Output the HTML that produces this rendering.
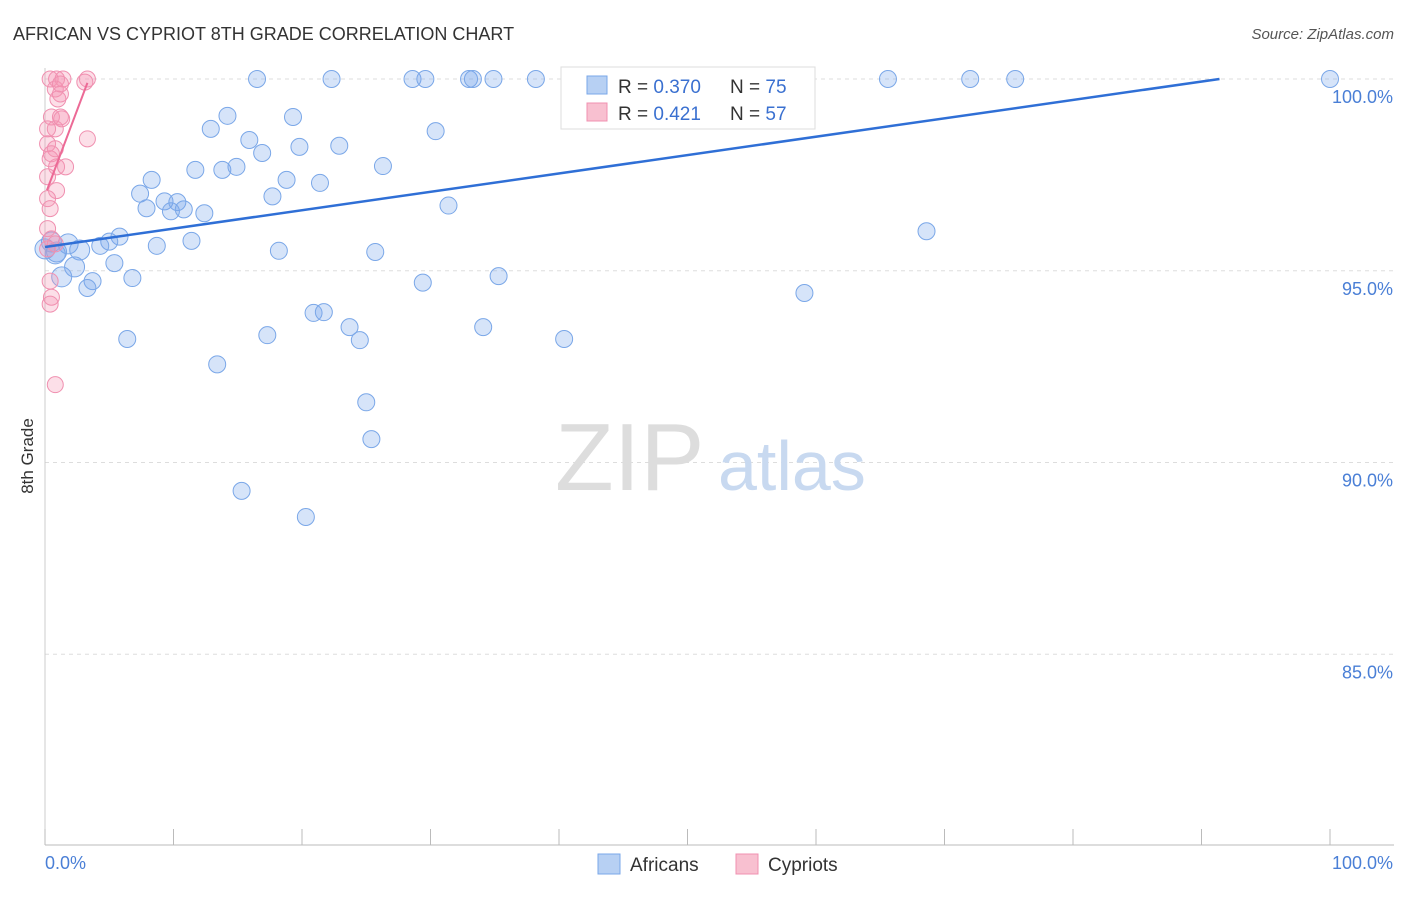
<!DOCTYPE html>
<html><head><meta charset="utf-8"><style>
body{margin:0;background:#fff;font-family:"Liberation Sans",sans-serif;}
svg text{font-family:"Liberation Sans",sans-serif;}
</style></head><body>
<svg id="chart" width="1406" height="892" xmlns="http://www.w3.org/2000/svg">
<text x="13" y="40" font-size="18" fill="#333">AFRICAN VS CYPRIOT 8TH GRADE CORRELATION CHART</text>
<text x="1394" y="39" font-size="15" fill="#555" text-anchor="end" font-style="italic">Source: ZipAtlas.com</text>
<g id="grid"></g>
<text x="555" y="490" font-size="96" fill="#ddd" font-family="Liberation Serif">ZIP</text>
<text x="718" y="490" font-size="70" fill="#c8d9f0">atlas</text>
<g id="marks"></g>
<text transform="translate(33,456) rotate(-90)" font-size="17" fill="#333" text-anchor="middle">8th Grade</text>
<text x="45" y="869" font-size="18" fill="#4a7fd6">0.0%</text>
<text x="1393" y="869" font-size="18" fill="#4a7fd6" text-anchor="end">100.0%</text>
<g>
<rect x="561" y="67" width="254" height="62" fill="#fff" stroke="#ddd"/>
<rect x="587" y="76" width="20" height="18" fill="#b7d0f3" stroke="#7aa7e8"/>
<rect x="587" y="103" width="20" height="18" fill="#f8c0d0" stroke="#f090b0"/>
<text x="618" y="93" font-size="19" fill="#333">R = <tspan fill="#3a70d0">0.370</tspan></text>
<text x="730" y="93" font-size="19" fill="#333">N = <tspan fill="#3a70d0">75</tspan></text>
<text x="618" y="120" font-size="19" fill="#333">R = <tspan fill="#3a70d0"> 0.421</tspan></text>
<text x="730" y="120" font-size="19" fill="#333">N = <tspan fill="#3a70d0">57</tspan></text>
</g>
<g><rect x="598" y="854" width="22" height="20" fill="#b7d0f3" stroke="#7aa7e8"/><text x="630" y="871" font-size="19" fill="#333">Africans</text></g>
<g><rect x="736" y="854" width="22" height="20" fill="#f8c0d0" stroke="#f090b0"/><text x="768" y="871" font-size="19" fill="#333">Cypriots</text></g>
</svg>
<script>
const yTicks=[100,95,90,85];
const xTicks=[0,10,20,30,40,50,60,70,80,90,100];
const africanX=[16.5,22.3,28.6,29.6,33,33.3,34.9,38.2,42.4,52.3,65.6,72,75.5,100,14.2,19.3,12.9,30.4,15.9,22.9,19.8,16.9,26.3,11.7,13.8,14.9,8.3,18.8,21.4,7.4,17.7,9.3,10.3,31.4,7.9,9.8,10.8,12.4,5.8,5,4.3,8.7,11.4,68.6,1.8,0.9,2.7,18.2,25.7,5.4,2.3,1.3,6.8,3.7,35.3,3.3,29.4,59.1,20.9,21.7,23.7,34.1,17.3,24.5,6.4,40.4,13.4,25,25.4,15.3,20.3,0.8,0,0.5];
const africanY=[100,100,100,100,100,100,100,100,100,100,100,100,100,100,99.04,99.01,98.7,98.64,98.41,98.26,98.23,98.07,97.73,97.63,97.63,97.71,97.37,97.37,97.29,97.01,96.94,96.81,96.79,96.7,96.63,96.55,96.6,96.5,95.89,95.76,95.65,95.65,95.78,96.03,95.7,95.49,95.54,95.52,95.49,95.2,95.1,94.84,94.81,94.73,94.86,94.55,94.69,94.42,93.9,93.92,93.53,93.53,93.32,93.19,93.22,93.22,92.56,91.57,90.61,89.26,88.58,95.44,95.57,95.75];
const cyprusX=[0.4,0.9,1.4,3.3,0.8,1.2,1,0.5,1.2,3.3,0.8,0.2,0.8,0.4,0.9,1.6,0.2,0.9,0.2,0.4,0.2,0.5,0.2,0.8,0.4,0.5,0.4,0.8,3.1,1.2,0.2,0.5,1.3];
const cyprusY=[100,100,100,100,99.74,99.61,99.48,99.01,99.01,98.44,98.7,98.31,98.18,97.92,97.71,97.71,97.45,97.09,96.88,96.62,96.1,95.83,95.57,95.7,94.73,94.31,94.13,92.03,99.92,99.87,98.7,98.05,98.96];
const africanTrend=[0,95.62,91.4,100];
const cyprusTrend=[0.15,97.1,3.3,99.9];
const X=v=>45+v*12.85, Y=v=>79+(100-v)*38.35;
const NS="http://www.w3.org/2000/svg";
const grid=document.getElementById('grid'), marks=document.getElementById('marks'), svg=document.getElementById('chart');
function mk(tag,attrs,parent){const e=document.createElementNS(NS,tag);for(const k in attrs)e.setAttribute(k,attrs[k]);parent.appendChild(e);return e;}
yTicks.forEach(t=>{
 const l=mk('line',{x1:45,x2:1394,y1:Y(t),y2:Y(t),stroke:'#ddd','stroke-dasharray':'4,4'},grid);
 
 
 const tx=mk('text',{x:1393,y:Y(t)+24,'font-size':18,fill:'#4a7fd6','text-anchor':'end'},svg);
 tx.textContent=t.toFixed(1)+'%';
 
 
});
const ax=mk('line',{x1:45,x2:1394,y1:845,y2:845,stroke:'#bbb'},grid);


const ay=mk('line',{x1:45,x2:45,y1:68,y2:845,stroke:'#ccc'},grid);


xTicks.forEach(t=>{
 const l=mk('line',{x1:X(t),x2:X(t),y1:829,y2:845,stroke:'#bbb'},grid);
 
 
});
africanX.forEach((v,i)=>{
 const c=mk('circle',{cx:X(v),cy:Y(africanY[i]),r:(v<3?10:8.5),fill:'rgba(120,165,235,0.3)',stroke:'#7aa7e8','stroke-width':1},marks);
 
 
});
cyprusX.forEach((v,i)=>{
 const c=mk('circle',{cx:X(v),cy:Y(cyprusY[i]),r:8,fill:'rgba(245,150,180,0.3)',stroke:'#f090b0','stroke-width':1},marks);
 
 
});
const t1=mk('line',{x1:X(africanTrend[0]),y1:Y(africanTrend[1]),x2:X(africanTrend[2]),y2:Y(africanTrend[3]),stroke:'#2f6fd6','stroke-width':2.5},marks);


const t2=mk('line',{x1:X(cyprusTrend[0]),y1:Y(cyprusTrend[1]),x2:X(cyprusTrend[2]),y2:Y(cyprusTrend[3]),stroke:'#ec6a96','stroke-width':2},marks);


</script>
</body></html>
